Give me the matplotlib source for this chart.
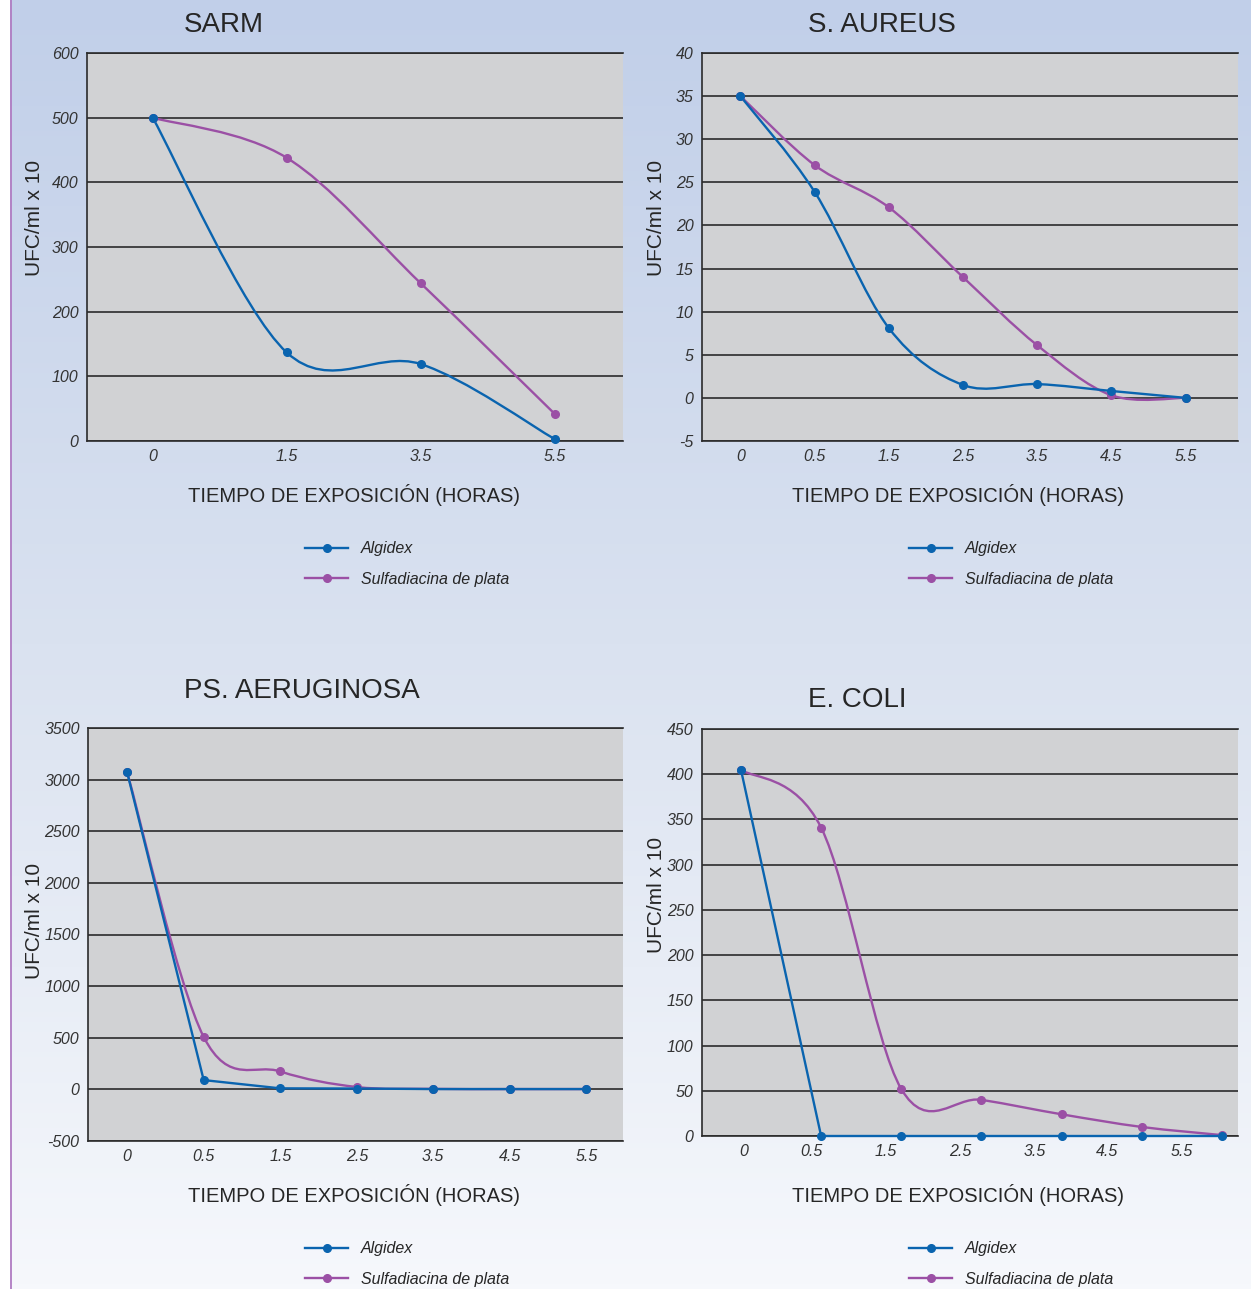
import numpy as np
import matplotlib
matplotlib.use("Agg")
import matplotlib.pyplot as plt
from matplotlib.path import Path
from matplotlib.patches import PathPatch, Rectangle
from matplotlib.lines import Line2D
from matplotlib.colors import LinearSegmentedColormap

plt.rcParams['font.family'] = ['Liberation Sans', 'DejaVu Sans']

# ---- data ----
series_names = ['Algidex', 'Sulfadiacina de plata']

sarm_hours = ['0', '1.5', '3.5', '5.5']
sarm_algidex = [500, 137, 119, 3]
sarm_sulfa = [500, 438, 244, 42]

aureus_hours = ['0', '0.5', '1.5', '2.5', '3.5', '4.5', '5.5']
aureus_algidex = [35, 23.9, 8.1, 1.5, 1.6, 0.8, 0]
aureus_sulfa = [35, 27.0, 22.1, 14.0, 6.1, 0.3, 0]

aerug_hours = ['0', '0.5', '1.5', '2.5', '3.5', '4.5', '5.5']
aerug_algidex = [3070, 90, 10, 8, 3, 3, 3]
aerug_sulfa = [3070, 508, 174, 23, 5, 3, 3]

coli_hours = ['0', '0.5', '1.5', '2.5', '3.5', '4.5', '5.5']
coli_algidex = [405, 0, 0, 0, 0, 0, 0]
coli_sulfa = [405, 341, 52, 40, 24, 10, 1]

BLUE = '#0a64af'
PURPLE = '#9b50a5'
GRID = '#2b2b2b'
TEXT = '#262626'

W, H = 1251, 1289


def smooth_path(xs, ys):
    """Excel-like smoothed line: Catmull-Rom segments as cubic Beziers."""
    pts = np.column_stack([xs, ys]).astype(float)
    n = len(pts)
    verts = [pts[0]]
    codes = [Path.MOVETO]
    for i in range(n - 1):
        p_prev = pts[max(i - 1, 0)]
        p_next2 = pts[min(i + 2, n - 1)]
        c1 = pts[i] + (pts[i + 1] - p_prev) / 6.0
        c2 = pts[i + 1] - (p_next2 - pts[i]) / 6.0
        verts += [c1, c2, pts[i + 1]]
        codes += [Path.CURVE4] * 3
    return Path(verts, codes)


def draw_series(ax, ys, color, smooth):
    xs = np.arange(len(ys))
    if smooth:
        ax.add_patch(PathPatch(smooth_path(xs, ys), fill=False, edgecolor=color,
                               lw=1.7, capstyle='round', joinstyle='round', zorder=3,
                               clip_on=False))
    else:
        ax.plot(xs, ys, color=color, lw=1.7, zorder=3, solid_joinstyle='round',
                clip_on=False)
    ax.plot(xs, ys, 'o', color=color, ms=5.5, zorder=4, clip_on=False)


def px_rect(left, top, right, bottom):
    return [left / W, 1 - bottom / H, (right - left) / W, (bottom - top) / H]


fig = plt.figure(figsize=(W / 100, H / 100), dpi=100)

# background gradient
bg = fig.add_axes([0, 0, 1, 1], zorder=-10)
cmap = LinearSegmentedColormap.from_list('bg', ['#c1cfe9', '#dae2f0', '#f6f8fc'])
grad = np.linspace(0, 1, 256).reshape(-1, 1)
bg.imshow(grad, cmap=cmap, aspect='auto', extent=[0, 1, 0, 1], origin='upper')
bg.add_patch(Rectangle((0, 0), 10 / W, 1, color='white', lw=0))
bg.plot([10.5 / W, 10.5 / W], [0, 1], color='#b07cc2', lw=1.3)
bg.set_xlim(0, 1)
bg.set_ylim(0, 1)
bg.axis('off')

panels = [
    dict(title='SARM', hours=sarm_hours, alg=sarm_algidex, sul=sarm_sulfa,
         rect=px_rect(87, 53, 623, 441), xlim=(-0.49, 3.51), ticks=None,
         ylim=(0, 600), ystep=100, smooth_alg=True,
         title_xy=(224, 25), ylab_xy=(34, 218), xlab_xy=(354, 495), leg_xy=(305, 564)),
    dict(title='S. AUREUS', hours=aureus_hours, alg=aureus_algidex, sul=aureus_sulfa,
         rect=px_rect(702, 53, 1238, 441), xlim=(-0.517, 6.705), ticks=None,
         ylim=(-5, 40), ystep=5, smooth_alg=True,
         title_xy=(882, 25), ylab_xy=(656, 218), xlab_xy=(958, 495), leg_xy=(909, 564)),
    dict(title='PS. AERUGINOSA', hours=aerug_hours, alg=aerug_algidex, sul=aerug_sulfa,
         rect=px_rect(88, 728, 623, 1141), xlim=(-0.512, 6.48), ticks=None,
         ylim=(-500, 3500), ystep=500, smooth_alg=False,
         title_xy=(302, 691), ylab_xy=(34, 921), xlab_xy=(354, 1195), leg_xy=(305, 1264)),
    dict(title='E. COLI', hours=coli_hours, alg=coli_algidex, sul=coli_sulfa,
         rect=px_rect(702, 729, 1238, 1136), xlim=(-0.486, 6.201),
         ticks=[0.03, 0.88, 1.81, 2.74, 3.67, 4.57, 5.50],
         ylim=(0, 450), ystep=50, smooth_alg=False,
         title_xy=(857, 700), ylab_xy=(656, 895), xlab_xy=(958, 1195), leg_xy=(909, 1264)),
]

for p in panels:
    ax = fig.add_axes(p['rect'])
    ax.set_facecolor('#d1d2d4')
    ax.set_xlim(p['xlim'])
    ax.set_ylim(p['ylim'])

    yticks = np.arange(p['ylim'][0], p['ylim'][1] + p['ystep'] / 2, p['ystep'])
    ax.set_yticks(yticks)
    ax.set_yticklabels([f'{t:g}' for t in yticks], fontstyle='italic')
    ticks = p['ticks'] if p['ticks'] is not None else np.arange(len(p['hours']))
    ax.set_xticks(ticks)
    ax.set_xticklabels(p['hours'], fontstyle='italic')
    ax.tick_params(length=0, labelsize=11.5, labelcolor='#333333')
    ax.tick_params(axis='y', pad=6)
    ax.tick_params(axis='x', pad=6)

    ax.yaxis.grid(True, color=GRID, lw=1.2)
    ax.set_axisbelow(True)
    for side in ['left', 'bottom', 'top']:
        ax.spines[side].set_color(GRID)
        ax.spines[side].set_linewidth(1.2)
    ax.spines['right'].set_visible(False)

    draw_series(ax, p['sul'], PURPLE, smooth=True)
    draw_series(ax, p['alg'], BLUE, smooth=p['smooth_alg'])

    tx, ty = p['title_xy']
    fig.text(tx / W, 1 - ty / H, p['title'], fontsize=20, color=TEXT, ha='center', va='center')
    lx, ly = p['ylab_xy']
    fig.text(lx / W, 1 - ly / H, 'UFC/ml x 10', fontsize=15, color=TEXT,
             rotation=90, ha='center', va='center')
    xx, xy = p['xlab_xy']
    fig.text(xx / W, 1 - xy / H, 'TIEMPO DE EXPOSICIÓN (HORAS)', fontsize=14.5, color=TEXT,
             ha='center', va='center')

    handles = [Line2D([], [], color=BLUE, lw=1.7, marker='o', ms=5.5),
               Line2D([], [], color=PURPLE, lw=1.7, marker='o', ms=5.5)]
    gx, gy = p['leg_xy']
    leg = ax.legend(handles, series_names, loc='center left',
                    bbox_to_anchor=(gx / W, 1 - gy / H), bbox_transform=fig.transFigure,
                    frameon=False, borderpad=0, borderaxespad=0, handlelength=2.7,
                    handletextpad=0.8, labelspacing=0.95,
                    prop={'style': 'italic', 'size': 11.5})
    for t in leg.get_texts():
        t.set_color(TEXT)

fig.savefig('out.png', dpi=100)
